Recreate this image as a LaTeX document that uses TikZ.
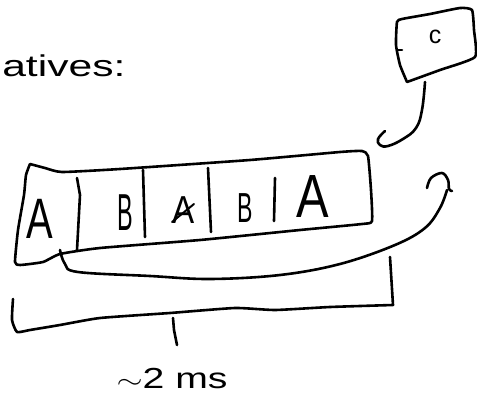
\documentclass[tikz,border=0pt]{standalone}
\usepackage{fontspec}
\setmainfont{Liberation Sans}
\begin{document}
\begin{tikzpicture}[x=1pt,y=-1pt,
  ink/.style={line width=2.6pt, line cap=round, line join=round},
  lbl/.style={inner sep=0pt, anchor=base, transform shape}]
\useasboundingbox[fill=white] (0,0) rectangle (477,396);
% heading fragment
\node[lbl, anchor=base west, xscale=1.42] (head) at (2,77) {\fontsize{30}{30}\selectfont atives:};
% box C
\draw[ink] plot[smooth, tension=0.3] coordinates {(407,82) (400,65) (396,45) (397,22) (402,19) (430,14) (460,8) (472,10) (474,30) (475,57) (440,70) (407,82)};
\draw[ink] (397,50) -- (402,50);
\node[lbl] (c) at (435,44) {\fontsize{25}{25}\selectfont c};
\coordinate (cb) at (425,82);
\coordinate (ce) at (385,131);
\draw[ink] plot[smooth, tension=0.7] coordinates {(cb) (422,110) (416,128) (403,139) (388,146) (380,145) (378,139) (ce)};
% main box
\draw[ink] plot[smooth, tension=0.3] coordinates {(30,164) (45,168) (62,172) (120,169) (250,160) (340,152) (362,151) (368,156) (371,190) (372,221) (362,224) (300,230) (200,240) (100,248) (60,254) (43,262) (20,265) (15,262) (18,230) (24,195) (26,175) (30,164)};
% dividers
\draw[ink] (77,178) -- (80,195) -- (77,250);
\draw[ink] (143,170) -- (145,237);
\draw[ink] (208,168) -- (211,232);
\draw[ink] (275,178) -- (274,221);
% letters
\node[lbl, xscale=0.7] (a1) at (40,238) {\fontsize{57}{57}\selectfont A};
\node[lbl, xscale=0.45] (b1) at (125,230) {\fontsize{52}{52}\selectfont B};
\node[lbl, xscale=0.85] (a2) at (184,223) {\fontsize{39}{39}\selectfont A};
\draw[ink, line width=2pt] (172,222) -- (194,204);
\node[lbl, xscale=0.55] (b2) at (245,222) {\fontsize{42}{42}\selectfont B};
\node[lbl, xscale=0.8] (a3) at (313,217) {\fontsize{61}{61}\selectfont A};
% loop from first A
\coordinate (ls) at (60,250);
\draw[ink] plot[smooth, tension=0.6] coordinates {(ls) (65,264) (78,272) (150,276) (210,279) (280,275) (340,264) (395,245) (425,228) (440,208) (447,190)};
\draw[ink] plot[smooth, tension=0.6] coordinates {(427,188) (431,178) (442,173) (448,180) (449,189) (452,191)};
% bracket
\coordinate (bl) at (13,299);
\coordinate (br) at (390,257);
\draw[ink] plot[smooth, tension=0.3] coordinates {(bl) (12,320) (17,332) (30,330) (60,325) (100,318) (170,313) (235,308) (275,310) (330,307) (393,305)} -- (br);
\coordinate (tk) at (173,318);
\draw[ink] (tk) -- (174,330) -- (177,345);
\node[lbl, xscale=1.35] (ms) at (172,388) {\fontsize{29}{29}\selectfont $\sim$2 ms};
\end{tikzpicture}
\end{document}
